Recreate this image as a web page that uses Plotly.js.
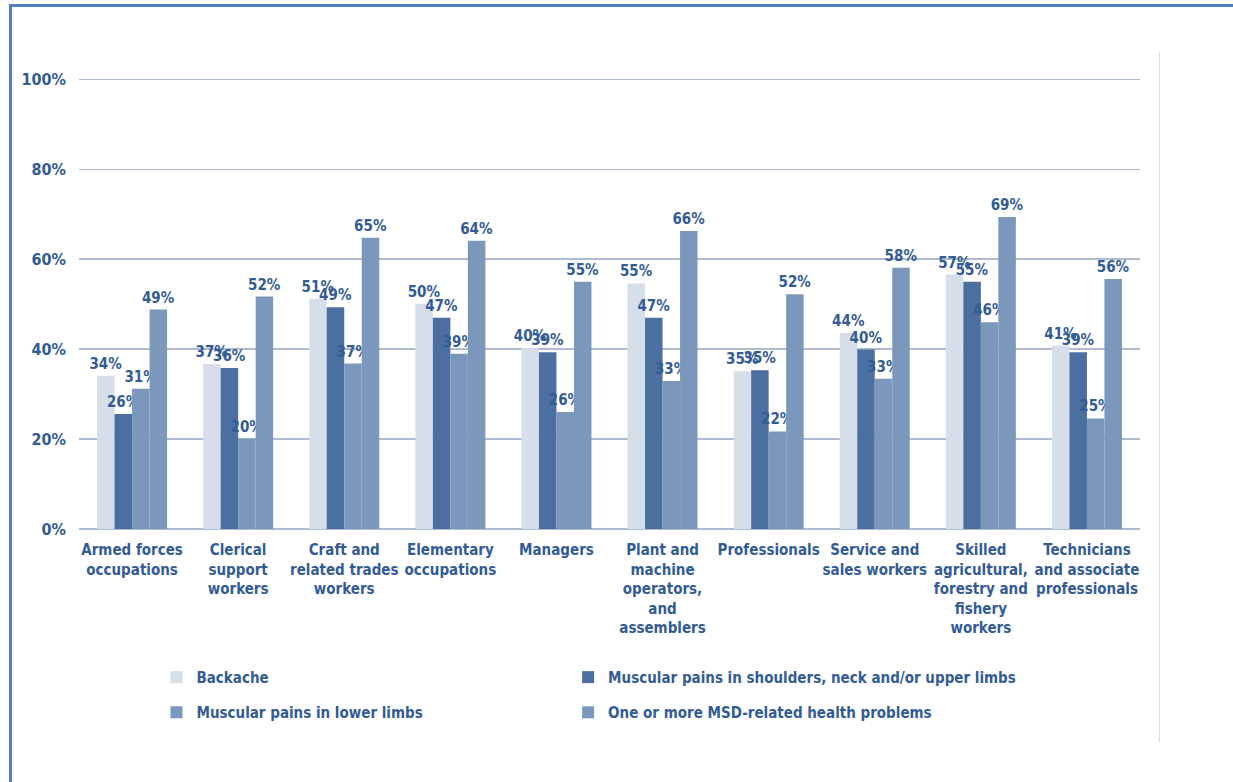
<!DOCTYPE html>
<html><head><meta charset="utf-8">
<script src="https://cdn.plot.ly/plotly-3.0.1.min.js"></script>
<style>
body{margin:0;background:#fff;}
#wrap{position:relative;width:1233px;height:782px;overflow:hidden;}
#chart{position:absolute;left:0;top:0;width:1233px;height:782px;}
#frame{position:absolute;left:9px;top:4px;width:1400px;height:1000px;border-top:3px solid #4f81bd;border-left:3px solid #4f81bd;pointer-events:none;}
#vline{position:absolute;left:1159px;top:52px;width:1px;height:690px;background:#dcdcdc;}
</style></head>
<body><div id="wrap"><div id="chart"></div><div id="frame"></div><div id="vline"></div></div>
<script>
const categories = ["Armed forces<br>occupations","Clerical<br>support<br>workers","Craft and<br>related trades<br>workers","Elementary<br>occupations","Managers","Plant and<br>machine<br>operators,<br>and<br>assemblers","Professionals","Service and<br>sales workers","Skilled<br>agricultural,<br>forestry and<br>fishery<br>workers","Technicians<br>and associate<br>professionals"];
const backache = [34.1, 36.7, 51.2, 50.1, 40.2, 54.6, 35.1, 43.6, 56.6, 40.8];
const shoulders = [25.6, 35.8, 49.3, 47.0, 39.3, 47.0, 35.3, 39.9, 55.0, 39.3];
const lowerLimbs = [31.2, 20.1, 36.8, 39.0, 26.0, 32.9, 21.7, 33.4, 46.0, 24.6];
const msd = [48.8, 51.7, 64.8, 64.1, 55.0, 66.3, 52.2, 58.1, 69.4, 55.6];
const yTickVals = [0, 20, 40, 60, 80, 100];
const yTickText = ["0%", "20%", "40%", "60%", "80%", "100%"];
const seriesNames = ["Backache","Muscular pains in shoulders, neck and/or upper limbs","Muscular pains in lower limbs","One or more MSD-related health problems"];
const colors = ["#d6deea","#4a6fa0","#7b98bc","#7b98bc"];
const legendIds = ["legend","legend2","legend3","legend4"];
const txt = "#335b94";
const fontFam = "'DejaVu Sans Condensed',sans-serif";
const all = [backache, shoulders, lowerLimbs, msd];
const traces = all.map((vals,i)=>({
  type:'bar', name:seriesNames[i], x:categories, y:vals, legend:legendIds[i],
  marker:{color:colors[i], line:{width:0}},
  text: vals.map(v=>Math.round(v)+'%'), textposition:'outside', constraintext:'none',
  cliponaxis:false, textfont:{family:fontFam, size:15, color:txt, weight:'bold'},
  hoverinfo:'none'
}));
const legBase = {orientation:'h', xanchor:'left', yanchor:'middle',
  font:{family:fontFam, size:15, color:txt, weight:'bold'}, itemwidth:30, bgcolor:'rgba(0,0,0,0)'};
const layout = {
  width:1233, height:782,
  margin:{l:79, r:93, t:78, b:253},
  barmode:'group', bargap:0.34, bargroupgap:0,
  paper_bgcolor:'#fff', plot_bgcolor:'#fff',
  font:{family:fontFam, color:txt, size:16, weight:'bold'},
  xaxis:{tickfont:{family:fontFam, size:15, color:txt, weight:'bold'}, tickangle:0, showline:false, ticks:'', ticklabelstandoff:10, automargin:false},
  yaxis:{range:[0,100.3], tickvals:yTickVals, ticktext:yTickText, showgrid:true, gridcolor:'#aebbd0', gridwidth:1.5,
    zeroline:true, zerolinecolor:'#aebbd0', zerolinewidth:1.5, showline:false, ticks:'', ticklabelstandoff:12,
    tickfont:{family:fontFam, size:16, color:txt, weight:'bold'}, automargin:false},
  legend:Object.assign({}, legBase, {x:0.073, y:-0.329}),
  legend2:Object.assign({}, legBase, {x:0.461, y:-0.329}),
  legend3:Object.assign({}, legBase, {x:0.073, y:-0.407}),
  legend4:Object.assign({}, legBase, {x:0.461, y:-0.407}),
  showlegend:true
};
Plotly.newPlot('chart', traces, layout, {displayModeBar:false, staticPlot:true});
</script></body></html>
